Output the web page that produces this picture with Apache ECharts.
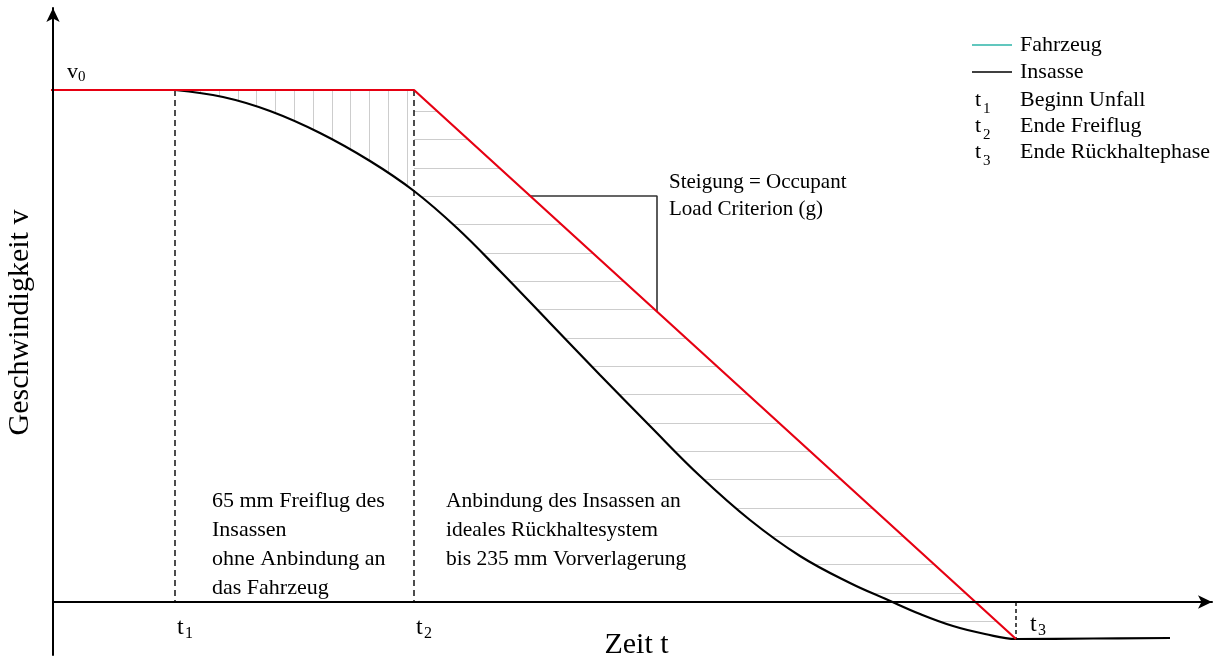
<!DOCTYPE html>
<html>
<head>
<meta charset="utf-8">
<script src="https://cdn.jsdelivr.net/npm/echarts@6/dist/echarts.min.js"></script>
<style>
html,body{margin:0;padding:0;background:#fff;}
#chart{width:1216px;height:661px;}
</style>
</head>
<body>
<div id="chart"></div>
<script>
// ---- data (arbitrary time / velocity units) ----
const T1 = 1.22;          // Beginn Unfall
const T2 = 3.61;          // Ende Freiflug
const T3 = 9.63;          // Ende Rückhaltephase
const V0 = 5.12;          // initial velocity
const VEND = -0.37;       // final velocity

const fahrzeug = [[-0.1, 5.12], [3.61, 5.12], [9.63, -0.37]];
const insasse = [
  [1.22, 5.12], [1.70, 5.05], [2.17, 4.91], [2.67, 4.69], [3.17, 4.41],
  [3.61, 4.11], [4.04, 3.74], [4.47, 3.31], [4.97, 2.79], [5.47, 2.27],
  [5.97, 1.76], [6.47, 1.26], [6.97, 0.82], [7.47, 0.46], [7.97, 0.19],
  [8.35, 0.02], [8.67, -0.12], [9.00, -0.24], [9.32, -0.32], [9.63, -0.37],
  [10.40, -0.365], [11.17, -0.36]
];
const hatchFree = [[1.22, 5.12], [3.61, 5.12]];
const hatchRestraint = [[3.61, 5.12], [9.63, -0.37]];
const slopeTriangle = [[4.77, 4.06], [6.04, 4.06], [6.04, 2.90]];

const legendNames = ['Fahrzeug', 'Insasse'];
const timeMarks = [
  { sub: '1', label: 'Beginn Unfall' },
  { sub: '2', label: 'Ende Freiflug' },
  { sub: '3', label: 'Ende Rückhaltephase' }
];
const xTitle = 'Zeit t';
const yTitle = 'Geschwindigkeit v';
const textFree = '65 mm Freiflug des\nInsassen\nohne Anbindung an\ndas Fahrzeug';
const textRestraint = 'Anbindung des Insassen an\nideales Rückhaltesystem\nbis 235 mm Vorverlagerung';
const textSlope = 'Steigung = Occupant\nLoad Criterion (g)';

// ---- styles ----
const FONT = '"Liberation Serif", "Times New Roman", serif';
const RED = '#e60012';
const TEAL = '#2cb5a8';
const HATCH = '#cdcdcd';

function makePattern(w, h, positions, vertical) {
  const c = document.createElement('canvas');
  c.width = w; c.height = h;
  const ctx = c.getContext('2d');
  ctx.fillStyle = HATCH;
  positions.forEach(p => vertical ? ctx.fillRect(p, 0, 1, h) : ctx.fillRect(0, p, w, 1));
  return c;
}
const vPattern = { image: makePattern(94, 8, [0, 19, 38, 56, 75], true), repeat: 'repeat', x: 200, y: 0 };
const hPattern = { image: makePattern(8, 85, [0, 28, 57], false), repeat: 'repeat', x: 0, y: 111 };

const chart = echarts.init(document.getElementById('chart'), null, { renderer: 'canvas' });

const axisCommon = {
  type: 'value', z: 10,
  axisLine: { show: true, onZero: true, symbol: ['none', 'arrow'], symbolSize: [10, 14],
    lineStyle: { color: '#000', width: 2 } },
  axisTick: { show: false }, axisLabel: { show: false }, splitLine: { show: false }
};

const option = {
  backgroundColor: '#fff',
  animation: false,
  textStyle: { fontFamily: FONT },
  grid: { left: 53, right: 4, top: 8, bottom: 6, containLabel: false, outerBoundsMode: 'none' },
  xAxis: Object.assign({ min: 0, max: 11.59 }, axisCommon),
  yAxis: Object.assign({ min: -0.53, max: 5.94 }, axisCommon),
  legend: {
    orient: 'vertical', left: 972, top: 34, padding: 0, itemGap: 5,
    itemWidth: 40, itemHeight: 1.5, icon: 'rect', selectedMode: false,
    textStyle: { fontFamily: FONT, fontSize: 22, color: '#000', lineHeight: 22, padding: [0, 0, 0, 3] },
    data: [
      { name: legendNames[0], itemStyle: { color: TEAL } },
      { name: legendNames[1], itemStyle: { color: '#000' } }
    ]
  },
  series: [
    {
      type: 'line', name: 'hatchFree', data: hatchFree, showSymbol: false, silent: true, z: 1,
      lineStyle: { width: 0, opacity: 0 },
      areaStyle: { color: vPattern, origin: 'start', opacity: 1 }
    },
    {
      type: 'line', name: 'hatchRestraint', data: hatchRestraint, showSymbol: false, silent: true, z: 1,
      lineStyle: { width: 0, opacity: 0 },
      areaStyle: { color: hPattern, origin: 'start', opacity: 1 }
    },
    {
      type: 'line', name: legendNames[1], data: insasse, showSymbol: false, smooth: 0.4, z: 2,
      itemStyle: { color: '#000' }, lineStyle: { color: '#000', width: 2.2 },
      areaStyle: { color: '#fff', origin: 'start', opacity: 1 }
    },
    {
      type: 'line', name: 't1', data: [[T1, V0], [T1, 0]], showSymbol: false, silent: true, z: 3,
      lineStyle: { color: '#000', width: 1.4, type: [6, 4] }
    },
    {
      type: 'line', name: 't2', data: [[T2, V0], [T2, 0]], showSymbol: false, silent: true, z: 3,
      lineStyle: { color: '#000', width: 1.4, type: [6, 4] }
    },
    {
      type: 'line', name: 't3', data: [[T3, 0], [T3, VEND]], showSymbol: false, silent: true, z: 3,
      lineStyle: { color: '#000', width: 1.4, type: [4, 3] }
    },
    {
      type: 'line', name: 'Steigung', data: slopeTriangle, showSymbol: false, silent: true, z: 3,
      lineStyle: { color: '#333', width: 1.6 }
    },
    {
      type: 'line', name: legendNames[0], data: fahrzeug, showSymbol: false, clip: false, z: 5,
      itemStyle: { color: RED }, lineStyle: { color: RED, width: 2.2 }
    }
  ]
};
chart.setOption(option);

// ---- annotations placed through the chart's own scales ----
function px(x, y) { return chart.convertToPixel({ gridIndex: 0 }, [x, y]); }
function sym(x, y, main, sub, size, subSize, subDx, subDy) {
  return [
    { type: 'text', x: x, y: y, z: 20, style: { text: main, font: size + 'px ' + FONT, fill: '#000', verticalAlign: 'middle' } },
    { type: 'text', x: x + subDx, y: y + subDy, z: 20, style: { text: sub, font: subSize + 'px ' + FONT, fill: '#000', verticalAlign: 'middle' } }
  ];
}
const pV0 = px(0, V0), pT1 = px(T1, 0), pT2 = px(T2, 0), pT3 = px(T3, 0);
const pSlope = px(slopeTriangle[1][0], slopeTriangle[1][1]);
const pMin = px(0, -0.53), pMax = px(11.59, 5.94);
let els = [];
els = els.concat(sym(pV0[0] + 14, pV0[1] - 18, 'v', '0', 22, 15, 11, 5));
els = els.concat(sym(pT1[0] + 2, pT1[1] + 26, 't', '1', 24, 16, 8, 6));
els = els.concat(sym(pT2[0] + 2, pT2[1] + 26, 't', '2', 24, 16, 8, 6));
els = els.concat(sym(pT3[0] + 14, pT3[1] + 23, 't', '3', 24, 16, 8, 6));
els.push({ type: 'text', x: (pMin[0] + pMax[0]) / 2 + 4, y: pT1[1] + 43, z: 20,
  style: { text: xTitle, font: '30px ' + FONT, fill: '#000', align: 'center', verticalAlign: 'middle' } });
els.push({ type: 'text', x: 20, y: (pMin[1] + pMax[1]) / 2 - 9, rotation: Math.PI / 2, z: 20,
  style: { text: yTitle, font: '30px ' + FONT, fill: '#000', align: 'center', verticalAlign: 'middle' } });
els.push({ type: 'text', x: pT1[0] + 37, y: 487, z: 20, style: { text: textFree, font: '22px ' + FONT, fill: '#000', lineHeight: 29 } });
els.push({ type: 'text', x: pT2[0] + 32, y: 487, z: 20, style: { text: textRestraint, font: '21.5px ' + FONT, fill: '#000', lineHeight: 29 } });
els.push({ type: 'text', x: pSlope[0] + 12, y: pSlope[1] - 27, z: 20, style: { text: textSlope, font: '21px ' + FONT, fill: '#000', lineHeight: 27 } });
const rowY = [100, 126, 152];
timeMarks.forEach((m, i) => {
  els = els.concat(sym(975, rowY[i], 't', m.sub, 22, 15, 8, 9));
  els.push({ type: 'text', x: 1020, y: rowY[i], z: 20, style: { text: m.label, font: '22px ' + FONT, fill: '#000', verticalAlign: 'middle' } });
});
chart.setOption({ graphic: { elements: els } });
</script>
</body>
</html>
